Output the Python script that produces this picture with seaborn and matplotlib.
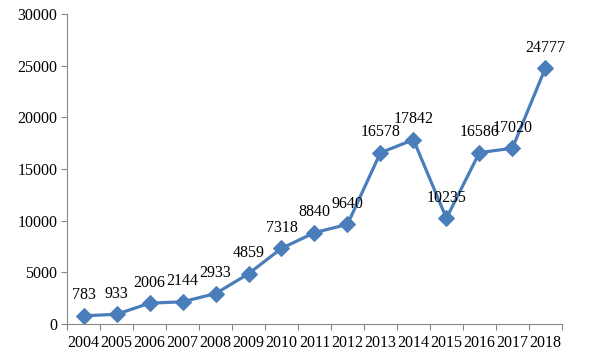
import numpy as np
import pandas as pd
import matplotlib
matplotlib.use("Agg")
import matplotlib.pyplot as plt
import seaborn as sns

years = ["2004", "2005", "2006", "2007", "2008", "2009", "2010", "2011",
         "2012", "2013", "2014", "2015", "2016", "2017", "2018"]
counts = [783, 933, 2006, 2144, 2933, 4859, 7318, 8840,
          9640, 16578, 17842, 10235, 16586, 17020, 24777]
yticks = [0, 5000, 10000, 15000, 20000, 25000, 30000]

sns.set_style("ticks")
plt.rcParams["font.family"] = ["Liberation Serif", "DejaVu Serif"]
plt.rcParams["text.color"] = "black"
plt.rcParams["xtick.labelcolor"] = "black"
plt.rcParams["ytick.labelcolor"] = "black"

df = pd.DataFrame({"pos": np.arange(len(years)), "count": counts})

fig = plt.figure(figsize=(5.99, 3.54), dpi=100)
ax = fig.add_axes([0.112, 0.085, 0.826, 0.875])

blue = "#4a7ebb"
sns.lineplot(data=df, x="pos", y="count", ax=ax, color=blue, linewidth=2.3,
             marker="D", markersize=8, markeredgecolor=blue, markerfacecolor=blue)

for x, v in zip(df["pos"], counts):
    ax.annotate(str(v), (x, v), xytext=(0, 9), textcoords="offset points",
                ha="center", va="bottom", fontsize=11.5, color="black")

ax.set_xlim(-0.5, len(years) - 0.5)
ax.set_ylim(0, 30000)
ax.set_yticks(yticks)
ax.set_yticklabels([str(t) for t in yticks], fontsize=11.5)
ax.set_xticks(df["pos"])
ax.set_xticklabels(years, fontsize=11.5)
ax.set_xticks(np.arange(-0.5, len(years)), minor=True)
ax.tick_params(axis="x", which="major", length=0, pad=8)
ax.tick_params(axis="x", which="minor", length=4, color="#888888", width=0.8)
ax.tick_params(axis="y", length=4, color="#888888", width=0.8, pad=3)
ax.set_xlabel("")
ax.set_ylabel("")

sns.despine(ax=ax)
for s in ["left", "bottom"]:
    ax.spines[s].set_color("#888888")
    ax.spines[s].set_linewidth(0.8)

fig.savefig("out.png", dpi=100)
